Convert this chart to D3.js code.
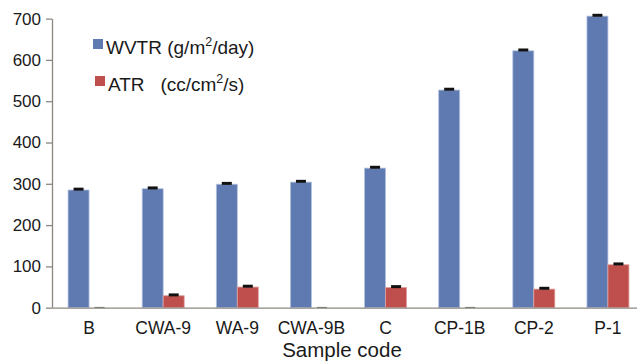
<!DOCTYPE html>
<html>
<head>
<meta charset="utf-8">
<script src="https://cdn.jsdelivr.net/npm/d3@7"></script>
<style>
body { margin: 0; background: #fff; }
text { font-family: "Liberation Sans", Arial, sans-serif; fill: #1a1a1a; }
</style>
</head>
<body>
<div class="canvas"></div>
<script>
const categories = ['B', 'CWA-9', 'WA-9', 'CWA-9B', 'C', 'CP-1B', 'CP-2', 'P-1'];
const wvtr = [285, 288, 299, 304, 338, 527, 622, 706];
const wvtr_err = [2, 2, 2, 2, 2, 2, 2, 2];
const atr = [0, 29, 50, 0, 49, 0, 45, 104];
const atr_err = [0.5, 2, 2, 0.5, 2, 0.5, 2, 2];
const yTicks = [0, 100, 200, 300, 400, 500, 600, 700];
const series = ['WVTR', 'ATR'];

const dims = {'width': 637, 'height': 362};
const plot = {'left': 52, 'right': 645, 'top': 18.6, 'bottom': 307.7};
const colors = {'WVTR': '#5f7ab0', 'ATR': '#be4f4c'};

const svg = d3.select('.canvas')
  .append('svg')
  .attr('width', dims.width)
  .attr('height', dims.height);

// scales
const y = d3.scaleLinear().domain([0, 700]).range([plot.bottom, plot.top]);
const x = d3.scaleBand().domain(categories).range([plot.left, plot.right]);
const xs = d3.scaleBand().domain(series).range([0, x.bandwidth()])
  .paddingInner(0).paddingOuter(0.765);

const data = categories.map((c, i) => ({
  name: c,
  vals: [
    {key: 'WVTR', v: wvtr[i], e: wvtr_err[i]},
    {key: 'ATR', v: atr[i], e: atr_err[i]}
  ]
}));

const groups = svg.selectAll('g.cat').data(data).enter().append('g')
  .attr('class', 'cat')
  .attr('transform', d => `translate(${x(d.name)},0)`);

groups.selectAll('rect').data(d => d.vals).enter().append('rect')
  .attr('x', d => xs(d.key))
  .attr('width', xs.bandwidth())
  .attr('y', d => y(d.v))
  .attr('height', d => y(0) - y(d.v))
  .attr('fill', d => colors[d.key])
  .attr('stroke', d => d.key === 'WVTR' ? '#b4c2e0' : '#e0a09e')
  .attr('stroke-width', 0.8);

// error bars
groups.selectAll('line.err').data(d => d.vals).enter().append('line')
  .attr('class', 'err')
  .attr('x1', d => xs(d.key) + xs.bandwidth() / 2)
  .attr('x2', d => xs(d.key) + xs.bandwidth() / 2)
  .attr('y1', d => y(d.v))
  .attr('y2', d => y(d.v + d.e))
  .attr('stroke', '#111').attr('stroke-width', 1);
groups.selectAll('line.cap').data(d => d.vals).enter().append('line')
  .attr('class', 'cap')
  .attr('x1', d => xs(d.key) + xs.bandwidth() / 2 - 5)
  .attr('x2', d => xs(d.key) + xs.bandwidth() / 2 + 5)
  .attr('y1', d => y(d.v + d.e))
  .attr('y2', d => y(d.v + d.e))
  .attr('stroke', d => d.v === 0 ? '#777' : '#111')
  .attr('stroke-width', d => d.v === 0 ? 1.2 : 3);

// axes
const yAxis = d3.axisLeft(y).tickValues(yTicks).tickSize(6).tickSizeOuter(0).tickPadding(5);
const yg = svg.append('g').attr('transform', `translate(${plot.left},0)`).call(yAxis);
yg.selectAll('text').style('font-size', '17px');
yg.selectAll('line, path').attr('stroke', '#8c8781').attr('stroke-width', 1.3);

const xAxis = d3.axisBottom(x).tickSize(0).tickSizeOuter(0).tickPadding(14);
const xg = svg.append('g').attr('transform', `translate(0,${plot.bottom})`).call(xAxis);
xg.selectAll('text').style('font-size', '17.5px');
xg.select('path').attr('stroke', '#8c8781').attr('stroke-width', 1.3);

svg.append('text')
  .attr('x', 342).attr('y', 357)
  .attr('text-anchor', 'middle')
  .style('font-size', '20.5px')
  .text('Sample code');

// legend
const legend = [
  {key: 'WVTR', label: 'WVTR (g/m', sup: '2', tail: '/day)', x: 93, y: 39},
  {key: 'ATR', label: 'ATR   (cc/cm', sup: '2', tail: '/s)', x: 95, y: 76}
];
legend.forEach(l => {
  svg.append('rect').attr('x', l.x).attr('y', l.y).attr('width', 10).attr('height', 10)
    .attr('fill', colors[l.key]);
  const t = svg.append('text').attr('x', l.x + 13).attr('y', l.y + 15)
    .style('font-size', '19px').attr('xml:space', 'preserve');
  t.append('tspan').text(l.label);
  t.append('tspan').attr('dy', -8).style('font-size', '12.5px').text(l.sup);
  t.append('tspan').attr('dy', 8).text(l.tail);
});
</script>
</body>
</html>
